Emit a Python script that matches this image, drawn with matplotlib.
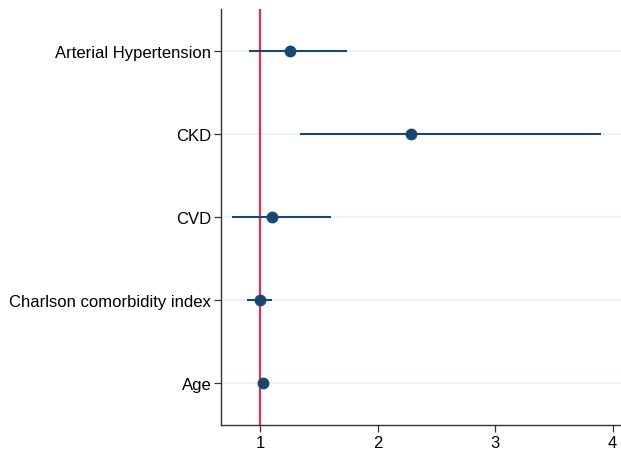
import matplotlib
matplotlib.use("Agg")
import matplotlib.pyplot as plt

categories = ["Age", "Charlson comorbidity index", "CVD", "CKD", "Arterial Hypertension"]
estimates = [1.026, 0.995, 1.097, 2.281, 1.253]
ci_low = [1.01, 0.89, 0.756, 1.338, 0.906]
ci_high = [1.04, 1.10, 1.602, 3.90, 1.736]
xticks = [1, 2, 3, 4]

plt.rcParams['font.family'] = ['Liberation Sans', 'DejaVu Sans']

fig = plt.figure(figsize=(6.21, 4.56), dpi=100)
ax = fig.add_axes([221/621, 30/456, 1 - 221/621, (426 - 10)/456])

navy = "#1a476f"
red = "#d6335a"
ypos = list(range(1, len(categories) + 1))

for y in ypos:
    ax.axhline(y, color="#eaf2f3", lw=1.2, zorder=0)

ax.axvline(1, color=red, lw=1.6, zorder=1)
ax.hlines(ypos, ci_low, ci_high, color=navy, lw=1.5, zorder=2)
ax.plot(estimates, ypos, "o", color=navy, ms=7.5, zorder=3)

ax.set_xlim(0.665, 4.072)
ax.set_ylim(0.5, 5.5)
ax.set_yticks(ypos)
ax.set_yticklabels(categories, fontsize=12)
ax.set_xticks(xticks)
ax.set_xticklabels([str(t) for t in xticks], fontsize=12)
ax.spines['top'].set_visible(False)
ax.spines['right'].set_visible(False)
for s in ['left', 'bottom']:
    ax.spines[s].set_color("#333333")
    ax.spines[s].set_linewidth(1.0)
ax.tick_params(axis='both', length=5, width=0.9, color="#333333", pad=2)

fig.savefig("out.png", dpi=100)
